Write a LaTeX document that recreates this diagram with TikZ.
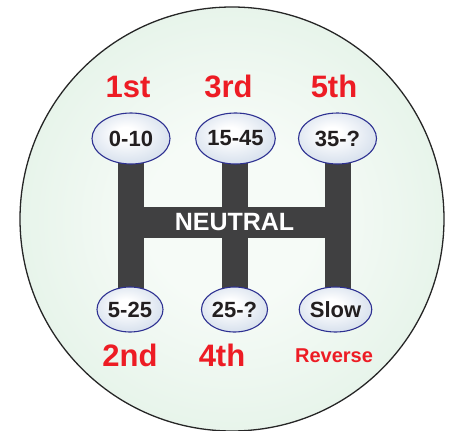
\documentclass[tikz,border=0pt]{standalone}
\usepackage{fontspec}
\setmainfont{Liberation Sans}
\usetikzlibrary{shapes.geometric}
\pgfdeclarelayer{back}
\pgfdeclarelayer{mid}
\pgfsetlayers{back,mid,main}

\definecolor{gearred}{HTML}{ED1C24}
\definecolor{barcol}{HTML}{404041}
\definecolor{knobedge}{HTML}{2E3192}
\definecolor{knobfill}{HTML}{AFC2DB}
\definecolor{platein}{HTML}{F6FBF7}
\definecolor{plateout}{HTML}{CFE9D6}
\definecolor{inktext}{HTML}{231F20}

% smooth gradients that run all the way to the rim
\pgfdeclareradialshading{platefade}{\pgfpoint{0bp}{0bp}}{%
  color(0bp)=(platein); color(10bp)=(platein); color(50bp)=(plateout)}
\pgfdeclareradialshading{knobfade}{\pgfpoint{-4bp}{6bp}}{%
  color(0bp)=(white); color(6bp)=(white); color(50bp)=(knobfill)}

\tikzset{
  knobtop/.style={ellipse, draw=knobedge, line width=1.1pt, inner sep=0pt,
    shading=knobfade,
    minimum width=78pt, minimum height=51pt,
    font=\bfseries\fontsize{22}{22}\selectfont, text=inktext},
  knobbot/.style={knobtop, minimum width=66pt, minimum height=45pt},
  gearlabel/.style={anchor=base, text=gearred, inner sep=0pt,
    font=\bfseries\fontsize{31}{31}\selectfont},
  shaft/.style={draw=barcol, line width=26pt, line cap=butt},
}

\begin{document}
\begin{tikzpicture}[x=1pt, y=-1pt]
  \useasboundingbox (0,0) rectangle (450,431);

  % shift plate
  \begin{pgfonlayer}{back}
    \draw[line width=1.3pt, draw=black!85, shading=platefade]
      (232,219) circle[radius=212];
  \end{pgfonlayer}

  % neutral gate
  \node[fill=barcol, minimum width=233pt, minimum height=31pt, inner sep=0pt,
        text=white, font=\bfseries\fontsize{25}{25}\selectfont] (neutral)
        at (234.5,222.5) {NEUTRAL};

  % gear knobs
  \node[knobtop] (g1) at (131,138.5) {0-10};
  \node[knobtop] (g3) at (235.5,138.5) {15-45};
  \node[knobtop] (g5) at (337.5,138.5) {35-?};
  \node[knobbot] (g2) at (130,309.5) {5-25};
  \node[knobbot] (g4) at (234.5,309.5) {25-?};
  \node[knobbot] (gr) at (335.5,309.5) {Slow};

  % shift rails, kept vertical below each upper knob
  \coordinate (r1) at (131,0);
  \coordinate (r3) at (235,0);
  \coordinate (r5) at (338,0);
  \begin{pgfonlayer}{mid}
    \draw[shaft] (r1 |- g1.center) -- (r1 |- g2.center);
    \draw[shaft] (r3 |- g3.center) -- (r3 |- g4.center);
    \draw[shaft] (r5 |- g5.center) -- (r5 |- gr.center);
  \end{pgfonlayer}

  % gear names
  \node[gearlabel] (l1) at (128,97) {1st};
  \node[gearlabel] (l3) at (228.5,97) {3rd};
  \node[gearlabel] (l5) at (334,97) {5th};
  \node[gearlabel] (l2) at (130,366) {2nd};
  \node[gearlabel] (l4) at (222,366) {4th};
  \node[gearlabel, font=\bfseries\fontsize{20}{20}\selectfont] (lr) at (334,362) {Reverse};
\end{tikzpicture}
\end{document}
